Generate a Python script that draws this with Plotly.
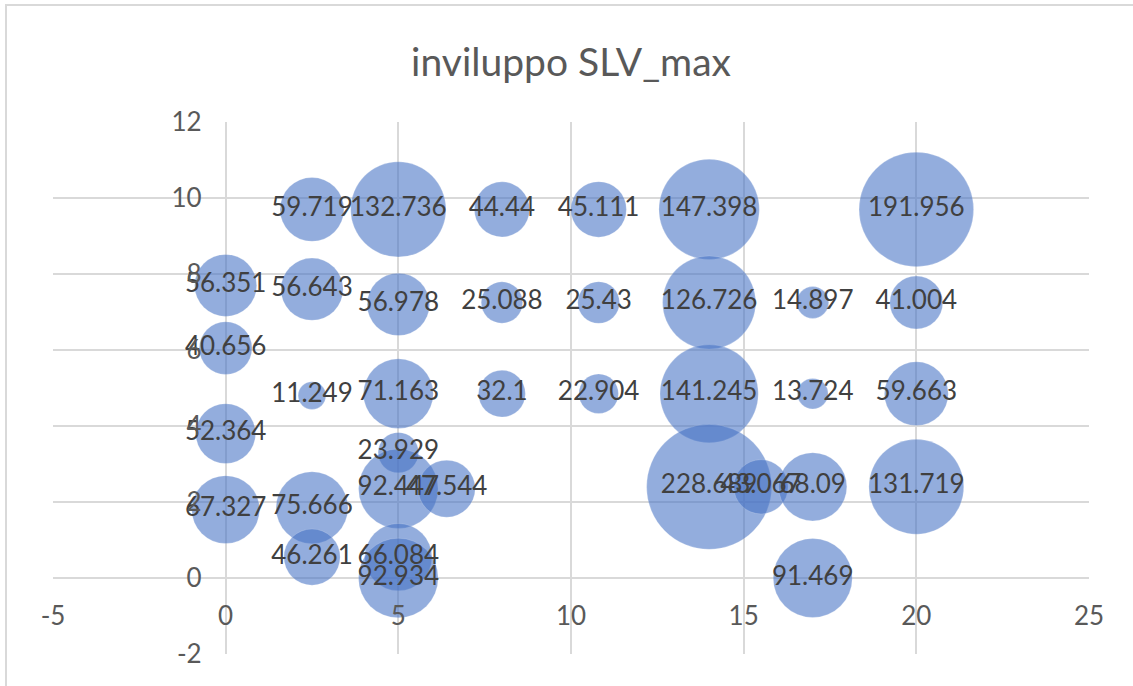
import plotly.graph_objects as go

# Bubble positions and envelope values
x_pos = [2.5, 5, 8, 10.8, 14, 20,
         0, 2.5, 5, 8, 10.8, 14, 17, 20,
         0,
         2.5, 5, 8, 10.8, 14, 17, 20,
         0, 5, 5, 6.4, 0, 2.5,
         14, 15.5, 17, 20,
         2.5, 5, 5, 17]
y_pos = [9.7, 9.7, 9.7, 9.7, 9.7, 9.7,
         7.7, 7.6, 7.2, 7.25, 7.25, 7.25, 7.25, 7.25,
         6.05,
         4.8, 4.85, 4.85, 4.85, 4.85, 4.85, 4.85,
         3.8, 3.3, 2.35, 2.35, 1.8, 1.85,
         2.4, 2.4, 2.4, 2.4,
         0.55, 0.55, 0.0, 0.0]
values = [59.719, 132.736, 44.44, 45.111, 147.398, 191.956,
          56.351, 56.643, 56.978, 25.088, 25.43, 126.726, 14.897, 41.004,
          40.656,
          11.249, 71.163, 32.1, 22.904, 141.245, 13.724, 59.663,
          52.364, 23.929, 92.447, 47.544, 67.327, 75.666,
          228.689, 43.067, 68.09, 131.719,
          46.261, 66.084, 92.934, 91.469]

x_ticks = [-5, 0, 5, 10, 15, 20, 25]
y_ticks = [-2, 0, 2, 4, 6, 8, 10, 12]

FONT = "Lato"
GRID = "#d9d9d9"
MAX_DIAM = 125  # px diameter of the largest bubble

fig = go.Figure()
fig.add_trace(go.Scatter(
    x=x_pos, y=y_pos,
    mode="markers+text",
    text=[str(v) for v in values],
    textposition="middle center",
    textfont=dict(family=FONT, size=26, color="#404040"),
    marker=dict(
        size=values,
        sizemode="area",
        sizeref=2.0 * max(values) / MAX_DIAM ** 2,
        color="rgba(68,114,196,0.82)",
        line=dict(width=0.6, color="rgba(255,255,255,0.35)"),
    ),
    cliponaxis=False,
    hoverinfo="skip",
    showlegend=False,
))

fig.update_layout(
    width=1133, height=686,
    margin=dict(l=53, r=44, t=122, b=32),
    paper_bgcolor="white",
    plot_bgcolor="white",
    title=dict(
        text="inviluppo SLV_max",
        x=0.5, xref="paper", xanchor="center",
        y=1 - 62 / 686, yref="container", yanchor="middle",
        font=dict(family=FONT, size=39, color="#595959"),
    ),
    xaxis=dict(
        range=[-5, 25], tickvals=x_ticks, ticktext=[str(t) for t in x_ticks],
        showgrid=True, gridcolor=GRID, gridwidth=2,
        zeroline=True, zerolinecolor=GRID, zerolinewidth=2,
        showline=False, ticks="",
        anchor="free", position=2 / 14,
        ticklabelstandoff=20,
        tickfont=dict(family=FONT, size=26, color="#595959"),
    ),
    yaxis=dict(
        range=[-2, 12], tickvals=y_ticks, ticktext=[str(t) for t in y_ticks],
        showgrid=True, gridcolor=GRID, gridwidth=2,
        zeroline=True, zerolinecolor=GRID, zerolinewidth=2,
        showline=False, ticks="",
        anchor="free", position=5 / 30,
        ticklabelstandoff=24,
        tickfont=dict(family=FONT, size=26, color="#595959"),
    ),
    shapes=[dict(
        type="rect", xref="paper", yref="paper",
        x0=(6 - 53) / 1036, x1=1.2, y0=-0.2, y1=(654 - 5) / 532,
        line=dict(color="#d9d9d9", width=2), fillcolor="rgba(0,0,0,0)",
        layer="below",
    )],
)

fig.write_html("out.html")
